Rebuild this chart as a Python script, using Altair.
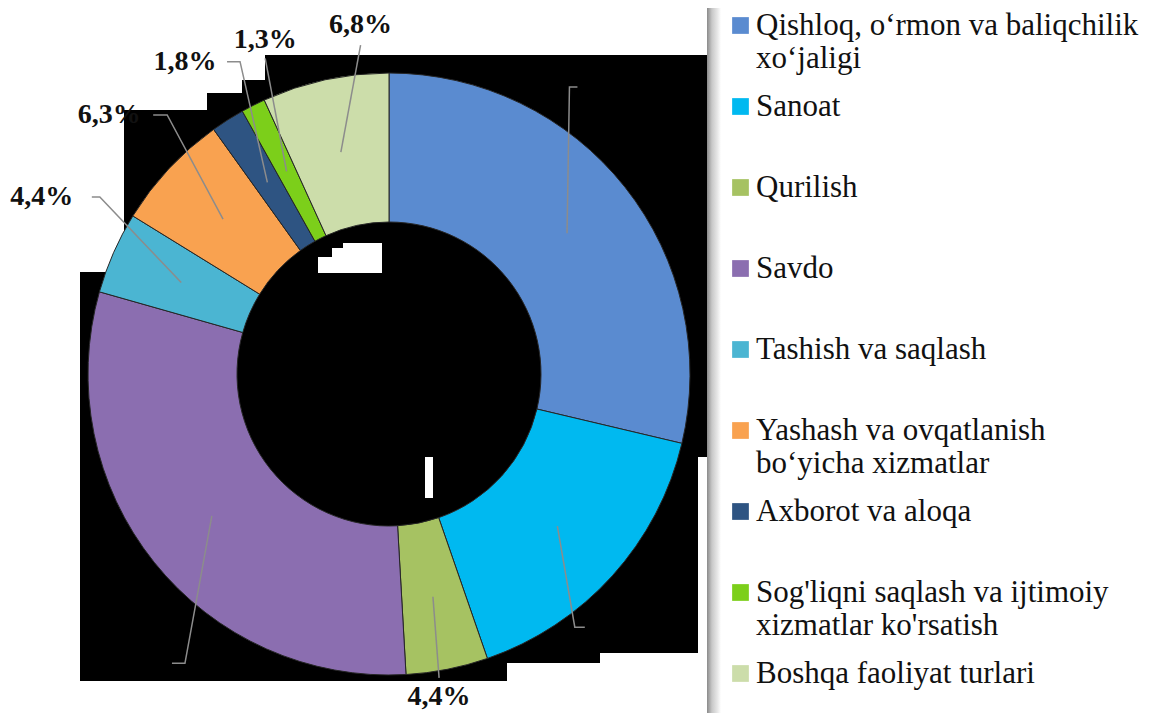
import math
import altair as alt
import pandas as pd

# ---------------- data ----------------
legend_line1 = ["Qishloq, o‘rmon va baliqchilik", "Sanoat", "Qurilish", "Savdo",
                "Tashish va saqlash", "Yashash va ovqatlanish", "Axborot va aloqa",
                "Sog'liqni saqlash va ijtimoiy", "Boshqa faoliyat turlari"]
legend_line2 = ["xo‘jaligi", "", "", "", "", "bo‘yicha xizmatlar", "",
                "xizmatlar ko'rsatish", ""]
shares = [28.7, 16.0, 4.4, 30.3, 4.4, 6.3, 1.8, 1.3, 6.8]
label_shown = [False, False, True, False, True, True, True, True, True]
colors = ["#5A8BD0", "#00B9F0", "#A6C262", "#8B6EB0", "#4BB5D2",
          "#F9A250", "#2E5482", "#7CCF1A", "#CCDDAA"]

categories = [(a + " " + b).strip() for a, b in zip(legend_line1, legend_line2)]

SERIF = "Liberation Serif, Times New Roman, DejaVu Serif, serif"

# ---------------- layout (pixels, view coordinates) ----------------
W, H = 627, 626
CX, CY = 309, 319
R_OUT, R_IN = 301, 152
R_LEADER_IN = 227
leader_nudge = [-19.5, 11.6, 1.8, -16.1, 7.7, 6.4, 6.9, 5.4, 7.3]   # degrees
leader_r = [339, 314, 308, 354, 339, 341, 346, 339, 330]
leader_tail = [8, 10, 0, -13, -8, -14, -13, 0, 0]
label_offset = [(0, 0), (0, 0), (0, 19), (0, 0), (-50, 0), (-44, 0), (-42, 0), (0, -18), (0, -20)]
# white cut-outs of the black backdrop (page px: x1, x2, y1, y2)
cutouts = [(80, 265, 55, 80), (80, 242, 80, 93), (80, 207, 93, 110), (80, 124, 110, 272),
           (698, 707, 457, 681), (600, 698, 653, 681), (507, 600, 663, 681),
           (318, 382, 257, 273), (332, 382, 248, 257), (343, 382, 243, 248),
           (425, 433, 457, 498)]
OX, OY = 80, 55

# ---------------- frames ----------------
df = pd.DataFrame({"category": categories, "share": shares, "idx": range(len(shares))})

total = sum(shares)
cum = 0.0
line_rows, label_rows = [], []
for i, v in enumerate(shares):
    mid = (cum + v / 2) / total * 360.0
    cum += v
    a_in = math.radians(mid)
    a_out = math.radians(mid + leader_nudge[i])
    x0, y0 = CX + R_LEADER_IN * math.sin(a_in), CY - R_LEADER_IN * math.cos(a_in)
    x1, y1 = CX + leader_r[i] * math.sin(a_out), CY - leader_r[i] * math.cos(a_out)
    x2, y2 = x1 + leader_tail[i], y1
    for k, (xx, yy) in enumerate([(x0, y0), (x1, y1), (x2, y2)]):
        line_rows.append({"category": categories[i], "pt": k, "x": xx, "y": yy})
    if label_shown[i]:
        label_rows.append({"label": f"{v:.1f}".replace(".", ",") + "%",
                           "x": x2 + label_offset[i][0], "y": y2 + label_offset[i][1]})
lines_df = pd.DataFrame(line_rows)
labels_df = pd.DataFrame(label_rows)
cut_df = pd.DataFrame([{"x1": a - OX, "x2": b - OX, "y1": c - OY, "y2": d - OY}
                       for a, b, c, d in cutouts])

# legend label expression (two-line labels)
expr = "datum.label"
for l1, l2 in zip(reversed(legend_line1), reversed(legend_line2)):
    if l2:
        expr = f'datum.label == "{l1} {l2}" ? ["{l1}", "{l2}"] : ({expr})'

# ---------------- chart ----------------
cuts = alt.Chart(cut_df).mark_rect(color="white").encode(
    x=alt.X("x1:Q", scale=None, axis=None), x2="x2:Q",
    y=alt.Y("y1:Q", scale=None, axis=None), y2="y2:Q")

band = alt.Chart(df.head(1)).mark_rect(
    color=alt.Gradient(gradient="linear", x1=0, x2=1, y1=0, y2=0,
                       stops=[alt.GradientStop(color="#8a8a8a", offset=0),
                              alt.GradientStop(color="#c8c8c8", offset=0.35),
                              alt.GradientStop(color="#e8e8e8", offset=0.75),
                              alt.GradientStop(color="#ffffff", offset=1)])
).encode(x=alt.value(W), x2=alt.value(W + 14), y=alt.value(-OY + 8), y2=alt.value(H + 40))

arcs = alt.Chart(df).mark_arc(outerRadius=R_OUT, innerRadius=R_IN,
                              stroke="#262626", strokeWidth=1).encode(
    theta=alt.Theta("share:Q", stack=True),
    order=alt.Order("idx:Q"),
    color=alt.Color("category:N", scale=alt.Scale(domain=categories, range=colors),
                    legend=alt.Legend(orient="none", legendX=645, legendY=-45, title=None,
                                      symbolType="square", symbolSize=280, symbolStrokeWidth=0,
                                      labelFont=SERIF, labelFontSize=31,
                                      labelColor="#111111", labelLimit=800, labelOffset=0,
                                      rowPadding=16, gridAlign="all", padding=0,
                                      labelExpr=expr)),
    x=alt.value(CX), y=alt.value(CY))

leaders = alt.Chart(lines_df).mark_line(color="#8c8c8c", strokeWidth=1.5).encode(
    x=alt.X("x:Q", scale=None, axis=None), y=alt.Y("y:Q", scale=None, axis=None),
    detail="category:N", order="pt:Q")

labels = alt.Chart(labels_df).mark_text(font=SERIF, fontSize=28,
                                        fontWeight="bold", color="#111111",
                                        align="center", baseline="middle").encode(
    x=alt.X("x:Q", scale=None, axis=None), y=alt.Y("y:Q", scale=None, axis=None),
    text="label:N")

chart = alt.layer(cuts, arcs, leaders, labels, band).properties(
    width=W, height=H,
    autosize=alt.AutoSizeParams(type="none"),
    padding={"left": 72, "top": 47, "right": 442, "bottom": 32},
).configure_view(fill="black", stroke=None)

chart.save("out.html", embed_options={"renderer": "svg", "actions": False})
